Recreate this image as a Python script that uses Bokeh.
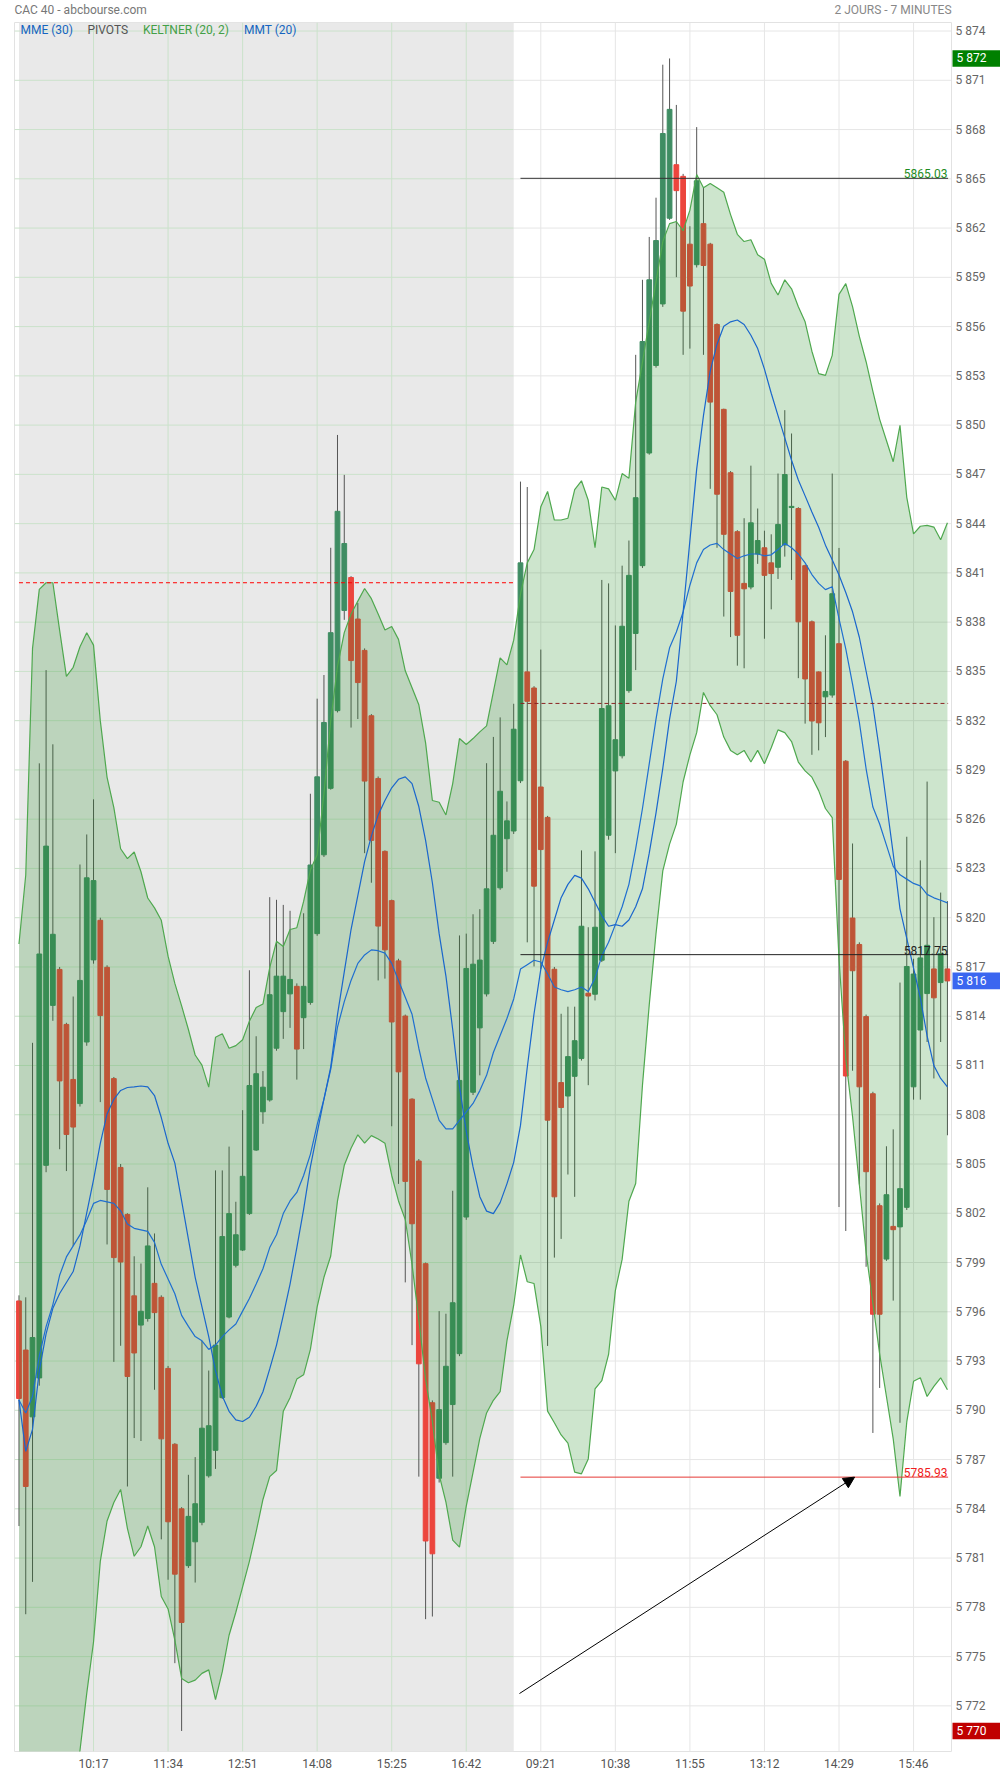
import numpy as np
from bokeh.plotting import figure
from bokeh.models import Range1d, FixedTicker, BoxAnnotation, Label, Arrow, NormalHead
from bokeh.core.properties import value
from bokeh.embed import file_html
from bokeh.resources import INLINE

# ---------------- data ----------------
opens = [5796.66, 5793.67, 5789.6, 5791.97, 5804.92, 5814.66, 5816.85, 5813.5, 5810.15, 5808.68,
         5812.43, 5817.43, 5819.84, 5816.98, 5810.2, 5804.79, 5801.93, 5796.97, 5795.19, 5795.59,
         5797.73, 5796.88, 5792.55, 5787.93, 5784.0, 5780.54, 5781.99, 5783.18, 5786.01, 5787.56,
         5790.77, 5795.68, 5798.83, 5799.76, 5801.98, 5805.85, 5808.18, 5808.9, 5812.05, 5814.28,
         5815.36, 5815.82, 5813.91, 5814.84, 5819.03, 5823.83, 5827.88, 5832.61, 5838.71, 5840.72,
         5838.19, 5836.28, 5832.3, 5828.48, 5824.04, 5821.04, 5817.37, 5814.01, 5808.95, 5805.18,
         5798.93, 5790.46, 5785.86, 5788.03, 5790.35, 5793.45, 5801.77, 5809.37, 5813.29, 5815.36,
         5818.56, 5821.82, 5824.81, 5825.28, 5828.34, 5834.97, 5833.99, 5827.96, 5826.11, 5816.86,
         5809.96, 5809.14, 5810.34, 5811.43, 5815.4, 5815.34, 5817.41, 5825.02, 5828.94, 5829.86,
         5833.83, 5837.31, 5841.44, 5848.3, 5853.63, 5857.38, 5862.6, 5865.86, 5865.15, 5861.02,
         5859.77, 5862.27, 5861.02, 5856.13, 5850.96, 5847.1, 5843.51, 5840.36, 5840.14, 5842.15,
         5842.53, 5841.61, 5841.34, 5842.7, 5844.98, 5844.92, 5841.44, 5838.02, 5834.97, 5833.45,
         5833.56, 5836.69, 5829.53, 5819.98, 5818.37, 5813.98, 5809.28, 5802.46, 5799.21, 5801.2,
         5801.17, 5802.36, 5809.7, 5813.16, 5815.38, 5816.88, 5816.05, 5816.88]
highs = [5797.0, 5796.88, 5812.38, 5829.4, 5835.08, 5830.56, 5817.0, 5813.6, 5815.2, 5823.24,
         5825.07, 5827.21, 5820.0, 5817.1, 5810.3, 5805.0, 5802.0, 5799.38, 5798.94, 5803.58,
         5800.77, 5797.0, 5792.7, 5788.0, 5784.1, 5786.07, 5787.15, 5794.23, 5792.42, 5804.61,
         5804.61, 5806.06, 5802.7, 5808.28, 5816.8, 5812.78, 5810.66, 5821.25, 5821.09, 5820.78,
         5820.42, 5816.0, 5820.27, 5827.55, 5833.34, 5834.78, 5842.53, 5849.4, 5846.97, 5840.8,
         5839.17, 5836.4, 5832.4, 5828.6, 5824.1, 5821.1, 5817.5, 5814.1, 5809.0, 5805.3,
         5799.0, 5790.6, 5796.04, 5795.88, 5803.37, 5818.92, 5819.03, 5820.21, 5820.52, 5829.41,
         5831.01, 5832.2, 5827.08, 5833.03, 5846.56, 5846.23, 5834.1, 5836.33, 5826.2, 5817.0,
         5814.15, 5814.58, 5814.58, 5824.1, 5819.42, 5824.04, 5840.57, 5840.36, 5837.8, 5841.44,
         5842.97, 5854.28, 5858.85, 5861.46, 5863.85, 5871.95, 5872.33, 5869.5, 5865.3, 5862.11,
         5868.15, 5864.45, 5861.1, 5856.2, 5851.0, 5847.2, 5843.6, 5844.33, 5847.53, 5844.92,
         5843.57, 5843.35, 5847.05, 5850.91, 5849.49, 5845.0, 5841.5, 5838.1, 5835.0, 5837.2,
         5847.05, 5842.52, 5829.6, 5824.52, 5818.5, 5814.1, 5809.4, 5802.6, 5806.08, 5807.11,
         5816.05, 5824.93, 5817.5, 5823.49, 5828.29, 5820.03, 5821.53, 5821.01]
lows = [5782.95, 5777.58, 5779.55, 5791.5, 5804.5, 5813.72, 5805.9, 5804.57, 5800.0, 5808.5,
        5812.2, 5817.2, 5808.77, 5800.1, 5792.95, 5793.93, 5785.36, 5788.31, 5788.13, 5795.4,
        5791.25, 5782.14, 5779.68, 5774.6, 5770.47, 5780.4, 5779.51, 5783.0, 5785.9, 5786.43,
        5790.7, 5795.6, 5798.7, 5799.7, 5801.9, 5805.8, 5807.45, 5808.8, 5811.9, 5812.62,
        5813.29, 5810.14, 5812.0, 5814.7, 5818.9, 5823.7, 5827.8, 5832.5, 5838.14, 5831.58,
        5832.1, 5823.93, 5822.13, 5816.18, 5816.29, 5807.3, 5803.79, 5797.79, 5793.97, 5785.96,
        5777.28, 5777.44, 5785.6, 5787.9, 5785.96, 5793.3, 5801.6, 5809.2, 5810.4, 5815.2,
        5818.4, 5821.7, 5822.8, 5825.1, 5828.2, 5818.5, 5817.03, 5816.86, 5793.92, 5799.3,
        5800.44, 5804.36, 5803.0, 5811.3, 5809.8, 5814.96, 5817.3, 5824.75, 5823.93, 5829.7,
        5833.7, 5835.08, 5841.3, 5848.2, 5853.5, 5857.2, 5862.5, 5859.01, 5854.28, 5854.66,
        5859.6, 5854.28, 5846.12, 5842.53, 5838.34, 5837.09, 5835.35, 5835.19, 5840.0, 5841.55,
        5836.99, 5838.78, 5840.63, 5841.99, 5840.57, 5834.59, 5831.82, 5829.92, 5830.19, 5831.0,
        5833.4, 5802.38, 5800.92, 5810.68, 5803.75, 5798.74, 5788.62, 5791.36, 5799.1, 5796.68,
        5789.24, 5802.2, 5808.92, 5808.92, 5812.43, 5810.21, 5812.43, 5806.75]
closes = [5790.72, 5785.36, 5794.43, 5817.79, 5824.36, 5818.99, 5810.06, 5806.8, 5807.25, 5816.18,
          5822.43, 5822.26, 5814.04, 5803.45, 5799.3, 5799.03, 5792.06, 5793.49, 5796.03, 5800.01,
          5795.95, 5788.26, 5783.21, 5780.02, 5777.08, 5783.54, 5784.31, 5788.91, 5789.06, 5793.97,
          5800.58, 5801.98, 5800.69, 5804.25, 5809.78, 5810.5, 5809.68, 5815.31, 5816.44, 5816.44,
          5816.24, 5812.0, 5815.82, 5823.21, 5828.58, 5831.89, 5837.36, 5844.75, 5842.79, 5835.66,
          5834.32, 5828.32, 5824.71, 5819.49, 5818.04, 5813.65, 5810.61, 5803.94, 5801.36, 5792.83,
          5782.04, 5781.26, 5790.04, 5792.68, 5796.55, 5810.09, 5816.91, 5817.17, 5817.42, 5821.76,
          5825.02, 5827.7, 5825.9, 5831.48, 5841.61, 5833.18, 5821.92, 5824.15, 5807.67, 5803.0,
          5808.44, 5811.54, 5812.51, 5819.48, 5815.23, 5819.42, 5832.74, 5832.91, 5830.84, 5837.75,
          5840.85, 5845.58, 5855.09, 5858.85, 5861.24, 5867.76, 5869.23, 5864.28, 5856.94, 5858.47,
          5864.88, 5859.72, 5851.4, 5845.79, 5843.35, 5839.87, 5837.2, 5840.03, 5844.05, 5842.97,
          5840.85, 5840.96, 5843.95, 5846.99, 5845.05, 5838.02, 5834.54, 5831.98, 5831.87, 5833.78,
          5839.73, 5822.33, 5810.36, 5816.77, 5809.7, 5804.53, 5795.85, 5795.85, 5803.13, 5801.0,
          5803.5, 5817.03, 5816.57, 5817.55, 5818.32, 5815.12, 5817.81, 5816.15]

keltner_upper = [5818.4, 5822.6, 5836.4, 5840.0, 5840.4, 5840.4, 5837.5, 5834.7, 5835.25, 5836.5,
                 5837.35, 5836.6, 5832.0, 5828.55, 5826.7, 5824.2, 5823.6, 5824.0, 5822.8, 5821.2,
                 5820.6, 5819.84, 5817.66, 5816.0, 5814.63, 5813.19, 5811.64, 5811.02, 5809.68, 5812.72,
                 5812.93, 5812.05, 5812.21, 5812.57, 5813.7, 5814.53, 5814.74, 5816.96, 5818.56, 5818.25,
                 5819.28, 5819.39, 5820.99, 5822.9, 5823.83, 5827.55, 5832.0, 5835.3, 5837.36, 5838.5,
                 5839.28, 5840.05, 5839.43, 5838.5, 5837.52, 5837.73, 5836.95, 5835.04, 5834.01, 5832.97,
                 5830.65, 5827.14, 5827.03, 5826.26, 5828.17, 5830.91, 5830.55, 5830.91, 5831.32, 5831.68,
                 5833.75, 5835.82, 5835.4, 5836.9, 5839.7, 5841.61, 5842.42, 5845.03, 5845.96, 5844.22,
                 5844.22, 5844.33, 5846.07, 5846.61, 5845.42, 5842.53, 5846.23, 5846.12, 5845.42, 5847.05,
                 5846.77, 5851.4, 5853.84, 5856.29, 5858.74, 5861.18, 5862.27, 5862.4, 5861.84, 5863.09,
                 5865.26, 5864.45, 5864.72, 5864.45, 5864.18, 5862.82, 5861.62, 5861.18, 5861.29, 5860.37,
                 5860.1, 5858.63, 5857.92, 5858.85, 5858.3, 5857.21, 5856.29, 5854.5, 5853.14, 5853.03,
                 5854.25, 5857.96, 5858.62, 5857.22, 5855.41, 5853.86, 5852.06, 5850.35, 5849.06, 5847.77,
                 5849.99, 5845.6, 5843.38, 5843.84, 5843.89, 5843.79, 5843.02, 5844.05]
keltner_lower = [5745.0, 5747.0, 5750.0, 5752.0, 5755.0, 5757.0, 5760.0, 5763.0, 5766.0, 5769.28,
                 5772.76, 5775.89, 5780.8, 5783.26, 5784.38, 5785.18, 5782.81, 5781.11, 5781.69, 5782.95,
                 5781.69, 5778.66, 5777.9, 5776.0, 5773.67, 5773.41, 5773.57, 5773.98, 5774.19, 5772.38,
                 5774.08, 5776.3, 5777.7, 5779.25, 5780.8, 5782.61, 5784.57, 5785.96, 5786.33, 5789.94,
                 5790.77, 5791.9, 5792.16, 5793.71, 5796.3, 5798.1, 5799.4, 5802.75, 5804.92, 5805.96,
                 5806.78, 5806.27, 5806.73, 5806.52, 5806.27, 5804.3, 5802.75, 5801.62, 5798.88, 5795.52,
                 5791.9, 5789.32, 5786.07, 5784.41, 5782.09, 5781.67, 5784.16, 5786.22, 5788.29, 5789.84,
                 5790.61, 5791.13, 5794.23, 5796.4, 5799.46, 5797.83, 5797.72, 5795.11, 5789.95, 5789.24,
                 5788.5, 5788.0, 5786.23, 5786.13, 5787.04, 5791.3, 5791.8, 5793.4, 5797.29, 5799.19,
                 5802.73, 5803.81, 5809.8, 5814.69, 5819.04, 5822.85, 5824.48, 5825.7, 5828.28, 5829.92,
                 5831.27, 5833.72, 5832.91, 5832.36, 5831.0, 5830.19, 5829.92, 5830.19, 5829.48, 5830.19,
                 5829.37, 5830.35, 5831.44, 5831.27, 5830.73, 5829.48, 5828.94, 5828.56, 5827.74, 5826.65,
                 5826.1, 5817.5, 5811.4, 5807.89, 5803.75, 5799.62, 5796.52, 5793.42, 5790.84, 5788.26,
                 5784.75, 5789.29, 5791.77, 5791.98, 5790.84, 5791.46, 5791.98, 5791.25]
mmt20 = [5790.63, 5787.5, 5788.84, 5792.42, 5794.65, 5796.21, 5797.11, 5797.78, 5798.45, 5800.01,
         5802.02, 5804.03, 5806.26, 5808.05, 5808.94, 5809.48, 5809.66, 5809.7, 5809.75, 5809.7,
         5809.17, 5807.83, 5806.26, 5805.05, 5802.75, 5800.43, 5798.1, 5796.3, 5794.49, 5792.42,
         5790.87, 5789.94, 5789.42, 5789.32, 5789.58, 5790.25, 5791.13, 5792.52, 5793.97, 5795.78,
         5797.69, 5799.91, 5802.24, 5804.82, 5806.89, 5808.95, 5810.9, 5814.1, 5816.7, 5819.28,
         5821.35, 5823.42, 5824.97, 5826.26, 5827.14, 5827.91, 5828.43, 5828.58, 5828.17, 5826.77,
         5824.71, 5822.13, 5819.03, 5816.44, 5813.19, 5809.73, 5806.99, 5804.82, 5803.01, 5802.13,
         5801.98, 5802.65, 5803.79, 5805.1, 5807.35, 5810.88, 5814.15, 5816.87, 5818.5, 5819.86,
         5821.22, 5822.03, 5822.58, 5822.41, 5821.76, 5820.94, 5820.13, 5819.48, 5819.58, 5819.48,
         5819.86, 5820.67, 5821.76, 5823.93, 5826.38, 5829.1, 5832.09, 5834.4, 5838.62, 5842.97,
         5847.32, 5850.58, 5853.3, 5854.93, 5856.02, 5856.29, 5856.4, 5856.13, 5855.47, 5854.66,
         5853.41, 5851.94, 5850.58, 5849.22, 5847.86, 5846.66, 5845.69, 5844.71, 5843.78, 5842.69,
         5841.8, 5840.87, 5839.81, 5838.63, 5837.08, 5835.01, 5832.94, 5830.1, 5827.0, 5823.9,
         5820.54, 5818.74, 5816.93, 5815.12, 5812.8, 5810.99, 5810.21, 5809.7]
mme30 = [5790.63, 5789.83, 5790.85, 5793.31, 5795.1, 5796.44, 5798.22, 5799.34, 5800.01, 5800.68,
         5801.57, 5802.6, 5802.78, 5802.69, 5802.6, 5802.15, 5801.35, 5801.08, 5800.99, 5800.9,
         5800.23, 5798.89, 5798.0, 5797.1, 5795.78, 5795.11, 5794.49, 5794.23, 5793.71, 5793.97,
         5794.49, 5794.9, 5795.26, 5796.04, 5796.81, 5797.69, 5798.62, 5799.91, 5800.69, 5801.98,
         5802.75, 5803.27, 5804.3, 5805.59, 5807.4, 5808.95, 5810.76, 5813.34, 5814.89, 5816.18,
         5817.22, 5817.73, 5818.04, 5817.99, 5817.84, 5817.22, 5816.18, 5815.15, 5814.12, 5812.05,
         5810.24, 5808.95, 5807.66, 5807.14, 5807.14, 5807.66, 5808.18, 5808.69, 5809.47, 5810.4,
         5811.79, 5812.83, 5813.86, 5815.05, 5816.87, 5817.14, 5817.41, 5817.3, 5816.59, 5815.78,
         5815.61, 5815.5, 5815.61, 5815.78, 5815.5, 5816.32, 5817.68, 5818.5, 5819.58, 5820.67,
         5822.03, 5824.21, 5826.65, 5829.37, 5832.09, 5834.54, 5836.44, 5837.4, 5838.62, 5840.25,
         5841.61, 5842.42, 5842.7, 5842.8, 5842.42, 5842.15, 5841.88, 5842.04, 5842.15, 5842.15,
         5842.04, 5842.1, 5842.42, 5842.8, 5842.53, 5842.15, 5841.61, 5840.9, 5840.36, 5839.98,
         5840.16, 5838.22, 5836.37, 5834.23, 5831.91, 5829.07, 5826.74, 5825.71, 5824.42, 5823.13,
         5822.61, 5822.35, 5822.09, 5821.94, 5821.42, 5821.21, 5821.06, 5820.9]

x_tick_idx = [11, 22, 33, 44, 55, 66, 77, 88, 99, 110, 121, 132]
x_tick_labels = ["10:17", "11:34", "12:51", "14:08", "15:25", "16:42",
                 "09:21", "10:38", "11:55", "13:12", "14:29", "15:46"]
y_ticks = list(range(5772, 5875, 3))
day1_last = 73          # last bar of day 1 (grey session)
day2_first = 74
pivot_day1 = 5840.4
pivot_day2 = 5833.05
level_high = 5865.03
level_mid = 5817.75
level_low = 5785.93
arrow_start = (73.85, 5772.75)
arrow_end = (123.3, 5785.93)

# ---------------- figure ----------------
x_lo, x_hi = -0.66, 137.6
y_lo, y_hi = 5769.22, 5874.52
FONT = "Roboto"
px_x = (x_hi - x_lo) / 937.0      # data units per pixel
px_y = (y_hi - y_lo) / 1729.0

p = figure(frame_width=937, frame_height=1729,
           x_range=Range1d(x_lo, x_hi), y_range=Range1d(y_lo, y_hi),
           y_axis_location="right", output_backend="svg", toolbar_location=None,
           min_border_left=14, min_border_top=22, min_border_right=49, min_border_bottom=0)
p.background_fill_color = "white"
p.border_fill_color = "white"
p.outline_line_color = "#E2E2E2"
p.xgrid.visible = False
p.ygrid.visible = False

p.add_layout(BoxAnnotation(left=0, right=day1_last, fill_color="#E9E9E9", fill_alpha=1.0,
                           line_color=None, level="underlay"))

# grid lines (green-ish on day 1, grey on day 2)
n = len(y_ticks)
p.segment(x0=[x_lo] * n, y0=y_ticks, x1=[day1_last] * n, y1=y_ticks, line_color="#CBE2CB", line_width=1)
p.segment(x0=[day1_last] * n, y0=y_ticks, x1=[x_hi] * n, y1=y_ticks, line_color="#E6E6E6", line_width=1)
vx1 = [t for t in x_tick_idx if t <= day1_last]
vx2 = [t for t in x_tick_idx if t > day1_last]
p.segment(x0=vx1, y0=[y_lo] * len(vx1), x1=vx1, y1=[y_hi] * len(vx1), line_color="#CBE2CB", line_width=1)
p.segment(x0=vx2, y0=[y_lo] * len(vx2), x1=vx2, y1=[y_hi] * len(vx2), line_color="#E6E6E6", line_width=1)

# candles
idx = np.arange(len(opens))
o = np.array(opens); h = np.array(highs); l = np.array(lows); c = np.array(closes)
up = c >= o
colors = np.where(up, "#3F8D63", "#EC453D")
p.segment(x0=idx, y0=h, x1=idx, y1=l, line_color="#555555", line_width=1)
p.vbar(x=idx, width=0.7, top=np.maximum(o, c), bottom=np.minimum(o, c),
       fill_color=colors, line_color=colors, line_width=1)

# Keltner band (drawn over the candles, translucent)
p.varea(x=idx, y1=keltner_lower, y2=keltner_upper, fill_color="#238C23", fill_alpha=0.227)
p.line(idx, keltner_upper, line_color="#4FA84F", line_width=1.2)
p.line(idx, keltner_lower, line_color="#4FA84F", line_width=1.2)

# moving averages
p.line(idx, mme30, line_color="#1F6FD0", line_width=1.2)
p.line(idx, mmt20, line_color="#1A66CC", line_width=1.2)

# pivots / levels
p.segment(x0=[0], y0=[pivot_day1], x1=[day1_last], y1=[pivot_day1],
          line_color="#FF0000", line_width=1, line_dash="4 3")
p.segment(x0=[day2_first], y0=[pivot_day2], x1=[x_hi - 0.5], y1=[pivot_day2],
          line_color="#8B2323", line_width=1, line_dash="4 3")
p.segment(x0=[day2_first] * 3, y0=[level_high, level_mid, level_low],
          x1=[x_hi - 0.5] * 3, y1=[level_high, level_mid, level_low],
          line_color=["#333333", "#222222", "#E53935"], line_width=1)

lab_x = x_hi - 0.6
for val, col in [(level_high, "#1E8C1E"), (level_mid, "#222222"), (level_low, "#F02020")]:
    p.add_layout(Label(x=lab_x, y=val, text=f"{val:.2f}", text_align="right", text_baseline="bottom",
                       text_color=col, text_font=FONT, text_font_size="12px"))

p.add_layout(Arrow(end=NormalHead(size=11, fill_color="black", line_color="black"),
                   x_start=arrow_start[0], y_start=arrow_start[1],
                   x_end=arrow_end[0], y_end=arrow_end[1], line_color="black", line_width=1))

# legend row
legend_y = y_hi - 0.43
for x, txt, col in [(0.22, "MME (30)", "#1565C0"), (10.1, "PIVOTS", "#555555"),
                    (18.3, "KELTNER (20, 2)", "#43A047"), (33.2, "MMT (20)", "#1565C0")]:
    p.add_layout(Label(x=x, y=legend_y, text=txt, text_color=col, text_font=FONT,
                       text_font_size="12px", text_baseline="middle", text_align="left"))

# header texts (overlay level glyphs are not clipped to the frame)
head_y = y_hi + 13 * px_y
p.text(x=[x_lo], y=[head_y], text=["CAC 40 - abcbourse.com"], text_color="#777777",
       text_font=value(FONT), text_font_size=value("12px"), text_baseline="middle",
       text_align="left", level="overlay")
p.text(x=[x_hi], y=[head_y], text=["2 JOURS - 7 MINUTES"], text_color="#888888",
       text_font=value(FONT), text_font_size=value("12px"), text_baseline="middle",
       text_align="right", level="overlay")

# price boxes on the right axis
def fmt(v):
    return f"{int(round(v)):,}".replace(",", " ")

box_vals = [max(highs), closes[-1], min(lows)]
box_cols = ["#008000", "#3B66F0", "#C00000"]
p.quad(left=[x_hi + 1 * px_x] * 3, right=[x_hi + 49 * px_x] * 3,
       bottom=[v - 8.3 * px_y for v in box_vals], top=[v + 8.3 * px_y for v in box_vals],
       fill_color=box_cols, line_color=None, level="overlay")
p.text(x=[x_hi + 5 * px_x] * 3, y=box_vals, text=[fmt(v) for v in box_vals], text_color="white",
       text_font=value(FONT), text_font_size=value("12px"), text_baseline="middle",
       text_align="left", level="overlay")

# axes
p.yaxis.ticker = FixedTicker(ticks=y_ticks)
p.yaxis.major_label_overrides = {t: fmt(t) for t in y_ticks}
p.xaxis.ticker = FixedTicker(ticks=x_tick_idx)
p.xaxis.major_label_overrides = {t: s for t, s in zip(x_tick_idx, x_tick_labels)}
for ax in (p.xaxis, p.yaxis):
    ax.axis_line_color = None
    ax.major_tick_line_color = None
    ax.minor_tick_line_color = None
    ax.major_tick_out = 0
    ax.major_label_text_font = FONT
    ax.major_label_text_font_size = "12px"
p.yaxis.major_label_text_color = "#666666"
p.xaxis.major_label_text_color = "#555555"
p.yaxis.major_label_standoff = 4
p.xaxis.major_label_standoff = 5

open("out.html", "w").write(file_html(p, INLINE))
